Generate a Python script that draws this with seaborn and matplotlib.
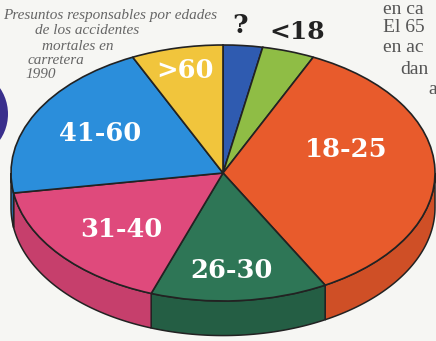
import numpy as np
import matplotlib
matplotlib.use("Agg")
import matplotlib.pyplot as plt
from matplotlib.patches import Polygon, Ellipse
import seaborn as sns

# ---- data ----
categories = ["?", "<18", "18-25", "26-30", "31-40", "41-60", ">60"]
shares = [3.0, 4.0, 35.0, 13.5, 17.0, 20.5, 7.0]
title_lines = ["Presuntos responsables por edades", "de los accidentes",
               "mortales en", "carretera", "1990"]
side_text = ["en ca", "El 65", "en ac", "dan", "a"]

# ---- styles / layout ----
top_colors = ["#2f5bb0", "#8fbd45", "#e85b2c", "#2e7656", "#df4a7c", "#2b8edb", "#f1c53c"]
side_colors = ["#24488c", "#6f9a33", "#cf4f26", "#245e44", "#c63f6c", "#2475b8", "#d4aa30"]
label_pos = [(0.08, 1.15), (0.35, 1.10), (0.58, 0.18), (0.04, -0.76),
             (-0.48, -0.445), (-0.58, 0.31), (-0.18, 0.80)]
label_col = ["#222222", "#222222", "white", "white", "white", "white", "white"]
label_size = [19, 18, 18.5, 18.5, 18.5, 18.5, 18.5]
depth = 0.27

sns.set_theme(style="white")
plt.rcParams["font.family"] = ["DejaVu Sans"]

W, H = 436, 341
fig = plt.figure(figsize=(W / 100, H / 100), dpi=100, facecolor="#f6f6f3")
ax = fig.add_axes([0, 0, 1, 1])
ax.set_facecolor("#f6f6f3")

cx_px, cy_px, rx_px, ry_px = 223, 173, 212, 128

# side walls (front half)
vals = np.array(shares)
cum = np.concatenate([[0], np.cumsum(vals)]) / vals.sum() * 360.0
for i in range(len(vals)):
    a0 = 90 - cum[i + 1]
    a1 = 90 - cum[i]
    for shift in (0, -360, 360):
        lo = max(a0 + shift, -180)
        hi = min(a1 + shift, 0)
        if hi > lo:
            t = np.radians(np.linspace(lo, hi, 60))
            top = np.column_stack([np.cos(t), np.sin(t)])
            bot = np.column_stack([np.cos(t[::-1]), np.sin(t[::-1]) - depth])
            poly = Polygon(np.vstack([top, bot]), closed=True,
                           facecolor=side_colors[i], edgecolor="#222222",
                           linewidth=1.1, zorder=1)
            ax.add_patch(poly)

wedges, _ = ax.pie(shares, colors=top_colors, startangle=90, counterclock=False,
                   wedgeprops=dict(edgecolor="#222222", linewidth=1.2))
for w in wedges:
    w.set_zorder(2)

ax.set_aspect("auto")
ax.set_xlim(-cx_px / rx_px, (W - cx_px) / rx_px)
ax.set_ylim(-(H - cy_px) / ry_px, cy_px / ry_px)
ax.axis("off")

for (x, y), lab, c, fs in zip(label_pos, categories, label_col, label_size):
    ax.text(x, y, lab, ha="center", va="center", color=c, fontsize=fs,
            fontweight="bold", family="DejaVu Serif", zorder=5)

# decorative dark disc at left edge (pixel-sized ellipse)
disc_cx, disc_cy, disc_r = -38, 114, 46
ax.add_patch(Ellipse(((disc_cx - cx_px) / rx_px, (cy_px - disc_cy) / ry_px),
                     2 * disc_r / rx_px, 2 * disc_r / ry_px,
                     facecolor="#3a2f8c", edgecolor="none", zorder=0))

# title lines (pixel placement)
title_x = [3, 35, 42, 28, 25]
title_y = [15, 31, 46, 61, 75]
for s, x, y in zip(title_lines, title_x, title_y):
    fig.text(x / W, 1 - y / H, s, ha="left", va="center", fontsize=11,
             style="italic", family="Liberation Serif", color="#666666")

side_x = [383, 383, 383, 400, 428]
side_y = [9, 27, 48, 69, 89]
for s, x, y in zip(side_text, side_x, side_y):
    fig.text(x / W, 1 - y / H, s, ha="left", va="center", fontsize=14,
             family="Liberation Serif", color="#555555")

fig.savefig("out.png", dpi=100, facecolor=fig.get_facecolor())
